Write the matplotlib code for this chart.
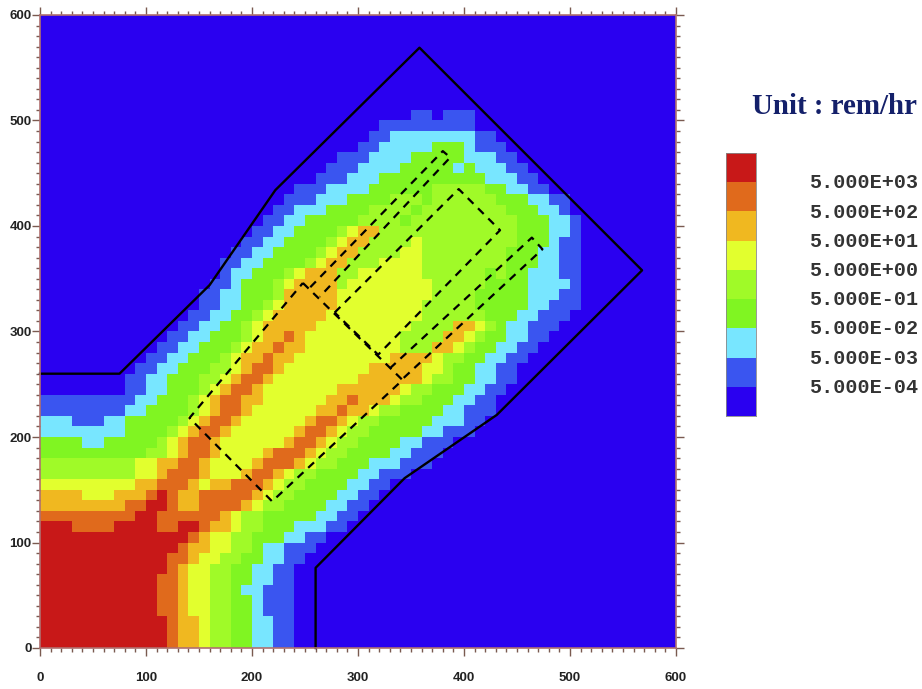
import numpy as np
import matplotlib
matplotlib.use("Agg")
import matplotlib.pyplot as plt
from matplotlib.colors import ListedColormap, BoundaryNorm

# dose band of every 10 x 10 cell, one string per row from y=0 upwards
# "level-endcolumn" runs, whatever is left in the row is level 0
rows = [
    "8-12 7-13 6-15 5-16 4-18 3-20 2-22 1-24",
    "8-12 7-13 6-15 5-16 4-18 3-20 2-22 1-24",
    "8-12 7-13 6-15 5-16 4-18 3-20 2-22 1-24",
    "8-11 7-13 6-14 5-16 4-18 3-20 2-21 1-24",
    "8-11 7-13 6-14 5-16 4-18 3-20 2-21 1-24",
    "8-11 7-13 6-14 5-16 4-18 3-19 2-21 1-24",
    "8-11 7-13 6-14 5-16 4-18 3-20 2-22 1-24",
    "8-12 7-13 6-14 5-16 4-18 3-20 2-22 1-24",
    "8-12 7-14 6-15 5-17 4-19 3-21 2-23 1-25",
    "8-13 7-14 6-16 5-18 4-20 3-21 2-23 1-26",
    "8-14 7-15 6-16 5-18 4-20 3-23 2-25 1-27",
    "8-3 7-7 8-11 7-13 8-15 7-16 6-18 5-19 4-21 3-24 2-27 1-29",
    "7-9 8-11 7-17 6-18 5-19 4-21 3-26 2-28 1-30",
    "6-8 7-10 8-12 7-13 6-15 7-19 6-20 5-21 4-23 3-27 2-29 1-31",
    "6-4 5-7 6-10 7-11 8-12 7-13 6-15 7-20 6-21 5-22 4-24 3-28 2-30 1-32",
    "5-9 6-11 7-14 6-15 5-16 6-18 7-21 6-22 5-23 4-25 3-29 2-31 1-33",
    "4-9 5-11 6-12 7-15 6-16 5-19 6-20 7-22 6-23 5-24 4-26 3-30 2-32 1-35",
    "4-9 5-11 6-13 7-15 6-16 5-20 6-21 7-24 6-25 5-26 4-28 3-31 2-34 1-37",
    "3-10 4-12 5-13 6-14 7-16 6-17 5-21 6-22 7-25 6-26 5-27 4-29 3-33 2-35 1-38",
    "3-4 2-6 3-11 4-12 5-13 6-14 7-16 6-17 5-23 6-24 7-26 6-27 5-28 4-30 3-34 2-36 1-39",
    "2-8 3-12 4-13 5-14 6-15 7-17 6-18 5-24 6-25 7-27 6-28 5-29 4-31 3-36 2-38 1-41",
    "2-3 1-6 2-8 3-13 4-14 5-15 6-16 7-18 6-19 5-25 6-26 7-28 6-29 5-30 4-32 3-37 2-40 1-42",
    "1-8 2-10 3-14 4-15 5-16 6-17 7-19 6-20 5-26 6-28 7-29 6-31 5-32 4-34 3-38 2-40 1-43",
    "1-9 2-11 3-14 4-15 5-16 6-17 7-19 6-21 5-27 6-29 7-30 6-33 5-34 4-36 3-39 2-41 1-43",
    "0-8 1-10 2-12 3-15 4-16 5-17 6-18 7-20 6-21 5-28 6-34 5-35 4-37 3-40 2-42 1-44",
    "0-8 1-10 2-12 3-15 4-17 5-18 6-19 7-21 6-22 5-30 6-36 5-37 4-39 3-41 2-43 1-45",
    "0-9 1-11 2-13 3-16 4-18 5-19 6-20 7-22 6-23 5-31 6-36 5-38 4-39 3-41 2-43 1-45",
    "0-10 1-12 2-14 3-17 4-18 5-19 6-21 7-22 6-24 5-33 6-37 5-38 4-40 3-42 2-44 1-46",
    "0-11 1-13 2-15 3-18 4-19 5-20 6-22 7-23 6-25 5-34 4-37 6-39 5-40 4-41 3-43 2-45 1-47",
    "0-12 1-14 2-16 3-19 4-20 5-21 6-23 7-24 6-25 5-34 4-38 6-40 5-41 4-42 3-44 2-46 1-48",
    "0-13 1-15 2-17 3-19 4-20 5-21 6-26 5-35 4-39 6-41 5-42 4-43 3-44 2-46 1-49",
    "0-14 1-16 2-18 3-20 4-21 5-22 6-27 5-36 4-42 3-45 2-47 1-50",
    "0-15 1-17 2-19 3-21 4-22 5-23 6-28 5-36 4-41 3-46 2-48 1-51",
    "0-15 1-17 2-19 3-22 4-23 6-28 5-37 4-41 3-46 2-49 1-51",
    "0-16 1-18 2-19 3-22 4-23 5-24 6-28 4-29 5-37 4-42 3-46 2-50 1-51",
    "0-17 1-18 2-20 3-23 4-24 5-25 6-28 4-30 5-36 4-42 3-43 4-44 3-46 2-49 1-51",
    "0-17 1-19 2-21 3-25 4-26 5-27 6-29 4-32 5-36 4-44 3-47 2-49 1-51",
    "0-18 1-20 2-22 3-26 4-27 5-28 6-30 4-34 5-36 4-44 3-47 2-49 1-51",
    "0-19 1-21 2-23 3-27 4-28 5-29 6-31 4-35 5-36 4-45 3-48 2-49 1-51",
    "0-20 1-22 2-24 3-28 4-29 5-30 6-32 4-45 3-48 2-50 1-51",
    "0-21 1-23 2-25 3-30 4-34 3-35 4-45 3-48 2-50 1-51",
    "0-22 1-24 2-27 3-31 4-35 3-36 4-44 3-47 2-49 1-50",
    "0-23 1-26 2-29 3-33 4-36 3-37 4-43 3-46 2-48 1-50",
    "0-24 1-27 2-31 3-37 4-42 3-44 2-46 1-48",
    "0-26 1-29 2-32 3-42 2-45 1-47",
    "0-27 1-30 2-34 3-39 2-40 3-41 2-44 1-46",
    "0-28 1-31 2-35 3-40 2-43 1-45",
    "0-30 1-32 2-37 3-40 2-41 1-44",
    "0-31 1-33 2-41 1-43",
    "0-32 1-41",
    "0-35 1-37 0-38 1-41",
]

band_colors = ["#2A00F0", "#3A55F0", "#78E6FF", "#80F522", "#A0FA28",
               "#E2FF2E", "#F0B820", "#E06A1C", "#C81818"]
legend_labels = ["5.000E+03", "5.000E+02", "5.000E+01", "5.000E+00",
                 "5.000E-01", "5.000E-02", "5.000E-03", "5.000E-04"]

# building wall
wall_x = [0, 75, 160, 222, 358, 568, 431, 344, 260, 260]
wall_y = [260, 260, 344, 434, 569, 358, 221, 161, 76, 0]

# dashed boxes
box_a_x = [248, 342, 219, 141, 248]
box_a_y = [346, 254, 139, 218, 346]
box_b_x = [255, 380, 387, 264]
box_b_y = [342, 471, 465, 333]
box_c_x = [278, 395, 434, 319, 278]
box_c_y = [318, 435, 396, 278, 318]
box_d_x = [330, 464, 474, 342]
box_d_y = [265, 389, 378, 255]

W, H = 922, 689
grid = np.zeros((60, 60), dtype=int)
for j, row in enumerate(rows):
    start = 0
    for run in row.split():
        level, end = run.split("-")
        grid[j, start:int(end)] = int(level)
        start = int(end)

cmap = ListedColormap(band_colors)
norm = BoundaryNorm(np.arange(-0.5, 9.5), 9)
edge = np.arange(0, 610, 10)

fig = plt.figure(figsize=(W / 100, H / 100), dpi=100)
ax = fig.add_axes([40 / W, (H - 648) / H, 636 / W, 633 / H])
ax.pcolormesh(edge, edge, grid, cmap=cmap, norm=norm, antialiased=False)
ax.plot(wall_x, wall_y, color="black", lw=1.7, clip_on=False)
for bx, by in [(box_a_x, box_a_y), (box_b_x, box_b_y), (box_c_x, box_c_y), (box_d_x, box_d_y)]:
    ax.plot(bx, by, color="black", lw=1.6, ls=(0, (3.6, 2.9)))

ax.set_xlim(0, 600)
ax.set_ylim(0, 600)
ax.set_xticks(np.arange(0, 700, 100))
ax.set_yticks(np.arange(0, 700, 100))
ax.set_xticks(np.arange(0, 610, 10), minor=True)
ax.set_yticks(np.arange(0, 610, 10), minor=True)
ax.tick_params(which="major", length=5.5, width=1, color="#7A5A50", top=True, right=True)
ax.tick_params(which="minor", length=3, width=1, color="#7A5A50", top=True, right=True)
ax.tick_params(axis="x", which="major", pad=12, labelsize=9.5, labelcolor="#222222")
ax.tick_params(axis="y", which="major", pad=0.5, labelsize=9.5, labelcolor="#222222")
for lab in ax.get_xticklabels() + ax.get_yticklabels():
    lab.set_family("Liberation Sans")
    lab.set_fontweight("bold")
for s in ax.spines.values():
    s.set_color("#B07070")
    s.set_linewidth(1.2)

# colour key
key = fig.add_axes([726 / W, (H - 416) / H, 30 / W, 263 / H])
key.pcolormesh(np.arange(9).reshape(-1, 1), cmap=cmap, norm=norm, antialiased=False)
key.set_xticks([])
key.set_yticks([])
for s in key.spines.values():
    s.set_color("#888888")
    s.set_linewidth(0.6)

for i, lab in enumerate(legend_labels):
    fig.text(809 / W, (H - 183 - i * 29.2) / H, lab, family="Liberation Mono", fontsize=14.5,
             fontweight="bold", color="#333333", va="center", ha="left")

fig.text(752 / W, (H - 107) / H, "Unit : rem/hr", family="Liberation Serif", fontweight="bold",
         fontsize=20.8, color="#14206A", va="center", ha="left")

fig.savefig("out.png", dpi=100)
